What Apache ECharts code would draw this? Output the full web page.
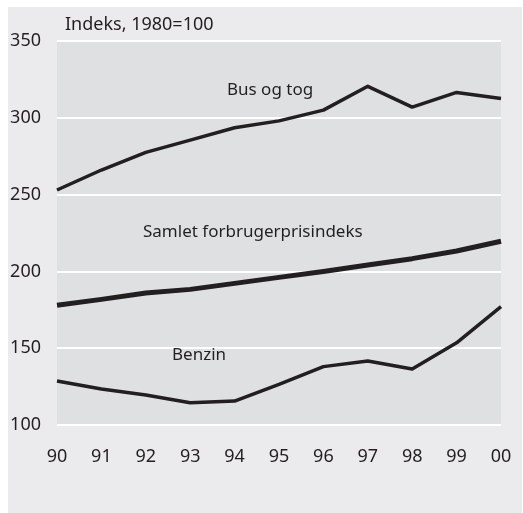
<!DOCTYPE html>
<html>
<head>
<meta charset="utf-8">
<script src="https://cdn.jsdelivr.net/npm/echarts@6/dist/echarts.min.js"></script>
<style>
html, body { margin: 0; padding: 0; background: #fff; }
#chart { width: 523px; height: 513px; }
</style>
</head>
<body>
<div id="chart"></div>
<script>
var years = ['90', '91', '92', '93', '94', '95', '96', '97', '98', '99', '00'];
var busTog = [253, 266, 277.5, 285.5, 293.5, 298, 305, 320.5, 307, 316.5, 312.5];
var samlet = [178, 181.8, 186, 188.3, 192.2, 196.1, 200, 204.2, 208.3, 213.3, 219.6];
var benzin = [128.6, 123.4, 119.5, 114.5, 115.6, 126.5, 138, 141.7, 136.5, 153.5, 177];

var chart = echarts.init(document.getElementById('chart'));
var font = '"Noto Sans", sans-serif';
var ink = '#231f20';

function lineSeries(name, data, width) {
    return {
        name: name,
        type: 'line',
        data: data,
        symbol: 'none',
        lineStyle: { color: ink, width: width, join: 'round' },
        z: 3
    };
}

chart.setOption({
    backgroundColor: '#ffffff',
    animation: false,
    graphic: [
        { type: 'rect', left: 8, top: 7, shape: { width: 514, height: 506 }, style: { fill: '#ebebed' }, z: -10 },
        { type: 'text', left: 65, top: 16, style: { text: 'Indeks, 1980=100', font: '18px ' + font, fill: ink }, z: 10 },
        { type: 'text', left: 227, top: 82, style: { text: 'Bus og tog', font: '17px ' + font, fill: ink }, z: 10 },
        { type: 'text', left: 143, top: 224, style: { text: 'Samlet forbrugerprisindeks', font: '17px ' + font, fill: ink }, z: 10 },
        { type: 'text', left: 172, top: 347, style: { text: 'Benzin', font: '17px ' + font, fill: ink }, z: 10 }
    ],
    grid: {
        left: 57, right: 22, top: 41, bottom: 88,
        show: true,
        backgroundColor: '#dfe0e2',
        borderWidth: 0
    },
    xAxis: {
        type: 'category',
        data: years,
        boundaryGap: false,
        axisLine: { show: false },
        axisTick: { show: false },
        axisLabel: { color: ink, fontSize: 18, fontFamily: font, margin: 23 }
    },
    yAxis: {
        type: 'value',
        min: 100, max: 350, interval: 50,
        axisLine: { show: false },
        axisTick: { show: false },
        axisLabel: { color: ink, fontSize: 18, fontFamily: font, margin: 16, align: 'right' },
        splitLine: { lineStyle: { color: '#ffffff', width: 2 } }
    },
    series: [
        lineSeries('Bus og tog', busTog, 3.5),
        lineSeries('Samlet forbrugerprisindeks', samlet, 5),
        lineSeries('Benzin', benzin, 3.5)
    ]
});
</script>
</body>
</html>
